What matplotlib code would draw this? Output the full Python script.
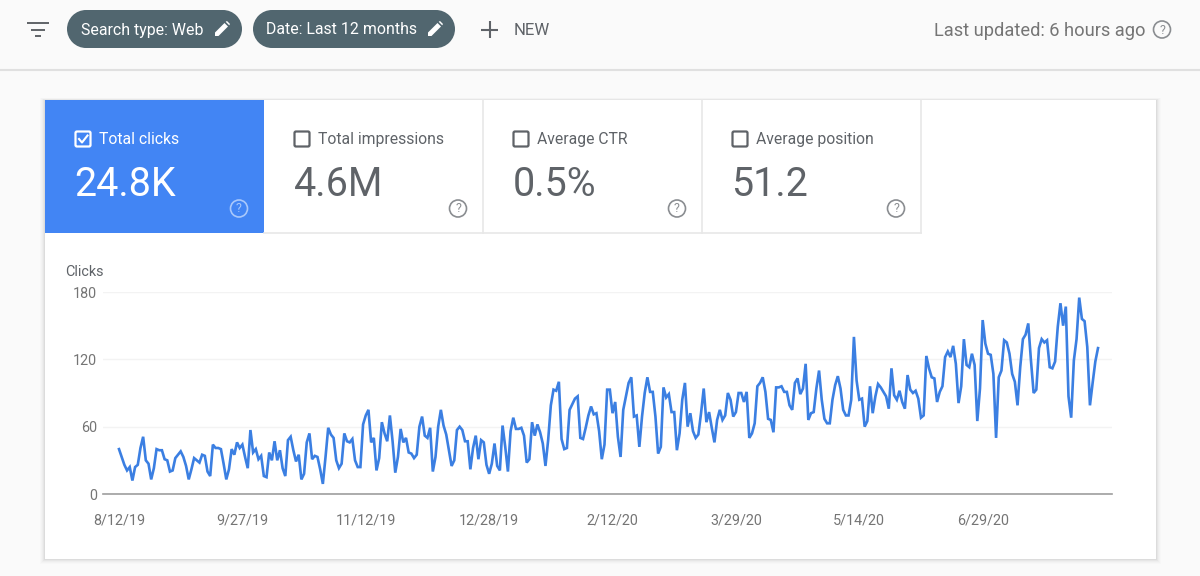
import matplotlib
matplotlib.use("Agg")
import matplotlib.pyplot as plt
from matplotlib.patches import Rectangle, FancyBboxPatch, Circle, Polygon

plt.rcParams['font.family'] = ['Roboto', 'DejaVu Sans']

# ---------- Data ----------

clicks = [
    40, 33, 26, 21, 24, 12, 24, 26, 41, 51, 30, 27, 13, 23, 40, 39, 39, 31, 30, 20,
    21, 32, 35, 38, 33, 25, 13, 22, 32, 30, 28, 35, 34, 20, 16, 44, 41, 41, 40, 27,
    13, 22, 40, 35, 46, 41, 44, 33, 23, 57, 37, 40, 31, 34, 16, 15, 37, 30, 47, 30,
    39, 23, 16, 48, 51, 39, 29, 35, 13, 18, 46, 54, 31, 34, 33, 22, 9, 33, 59, 53,
    50, 30, 23, 27, 54, 47, 46, 49, 30, 24, 24, 62, 70, 75, 46, 50, 21, 32, 64, 54,
    47, 70, 47, 19, 33, 58, 46, 50, 37, 36, 32, 35, 60, 69, 52, 50, 59, 20, 33, 60,
    75, 61, 53, 39, 25, 30, 57, 60, 57, 47, 47, 22, 41, 52, 31, 48, 46, 26, 18, 27,
    45, 25, 21, 61, 42, 20, 56, 68, 58, 58, 59, 52, 28, 31, 64, 52, 62, 55, 45, 25,
    48, 79, 93, 92, 100, 49, 40, 41, 75, 80, 85, 87, 50, 49, 59, 70, 78, 71, 72, 56,
    31, 44, 93, 93, 72, 82, 51, 33, 75, 87, 99, 104, 69, 70, 42, 69, 90, 104, 91, 91,
    69, 36, 42, 95, 86, 89, 73, 73, 39, 54, 84, 99, 60, 72, 56, 50, 53, 72, 94, 64,
    73, 59, 46, 66, 75, 66, 70, 90, 84, 69, 73, 90, 90, 82, 91, 50, 54, 63, 96, 99,
    104, 91, 67, 66, 55, 95, 95, 96, 91, 91, 79, 75, 99, 103, 89, 94, 116, 66, 72, 73,
    94, 110, 84, 67, 63, 63, 84, 97, 105, 94, 75, 70, 70, 84, 140, 101, 84, 85, 60, 65,
    96, 72, 87, 98, 95, 91, 87, 76, 112, 88, 84, 92, 82, 76, 106, 93, 90, 92, 85, 68,
    70, 123, 112, 104, 103, 82, 91, 96, 122, 127, 122, 132, 116, 81, 96, 138, 115, 113, 125, 115,
    65, 94, 155, 134, 125, 124, 107, 50, 104, 110, 137, 135, 125, 107, 100, 79, 113, 138, 142, 152,
    119, 90, 93, 130, 138, 135, 137, 113, 112, 118, 149, 170, 150, 167, 87, 68, 119, 138, 175, 156,
    154, 131, 79, 99, 118, 130,
]
days = list(range(len(clicks)))

tick_days = [0, 46, 92, 138, 184, 230, 276, 322]
tick_labels = ["8/12/19", "9/27/19", "11/12/19", "12/28/19", "2/12/20", "3/29/20", "5/14/20", "6/29/20"]
y_ticks = [0, 60, 120, 180]

tab_titles = ["Total clicks", "Total impressions", "Average CTR", "Average position"]
tab_values = ["24.8K", "4.6M", "0.5%", "51.2"]

W, H = 1200, 576
GREY = "#5f6368"
BLUE = "#4285f4"
PILL = "#51666f"


def px(size):
    # taille en pixels -> points (dpi = 100)
    return size * 72 / 100


def question(ax, x, y, color, r=8.5, size=12.5):
    ax.add_patch(Circle((x, y), r, fill=False, ec=color, lw=1.2))
    ax.text(x, y + 0.5, "?", color=color, fontsize=px(size), ha="center", va="center")


def pencil(ax, x, y, color="white"):
    # petit crayon blanc des filtres
    ax.add_patch(Polygon([(x - 7, y + 7), (x - 7, y + 3.5), (x + 2.5, y - 6), (x + 6, y - 2.5), (x - 3.5, y + 7)],
                         fc=color, ec="none"))
    ax.add_patch(Polygon([(x + 3.7, y - 7.2), (x + 5, y - 8), (x + 8, y - 5), (x + 7.2, y - 3.7)],
                         fc=color, ec="none"))


fig = plt.figure(figsize=(W / 100, H / 100), dpi=100, facecolor="#fafafa")

# ---------- Page ----------

bg = fig.add_axes([0, 0, 1, 1])
bg.set_xlim(0, W)
bg.set_ylim(H, 0)
bg.axis("off")

bg.plot([0, W], [69.5, 69.5], color="#e0e0e0", lw=1.5)

# Icone filtre
for xa, xb, y in [(27, 49, 23), (31, 45, 29.5), (35, 41, 36)]:
    bg.plot([xa, xb], [y, y], color=GREY, lw=1.4, solid_capstyle="butt")

# Filtres
for x0, x1, label, xt in [(67, 242, "Search type: Web", 81), (253, 455, "Date: Last 12 months", 266)]:
    bg.add_patch(Circle((x0 + 19, 29), 19, fc=PILL, ec="none"))
    bg.add_patch(Circle((x1 - 19, 29), 19, fc=PILL, ec="none"))
    bg.add_patch(Rectangle((x0 + 19, 10), x1 - x0 - 38, 38, fc=PILL, ec="none"))
    bg.text(xt, 30, label, color="white", fontsize=px(15.9), va="center", ha="left")
    pencil(bg, x1 - 20, 29)

bg.plot([481, 498], [29.5, 29.5], color=GREY, lw=1.5, solid_capstyle="butt")
bg.plot([489.5, 489.5], [21, 38], color=GREY, lw=1.5, solid_capstyle="butt")
bg.text(514, 30.5, "NEW", color=GREY, fontsize=px(16.8), va="center", ha="left")

bg.text(1146, 30.5, "Last updated: 6 hours ago", color="#757575", fontsize=px(18.3), va="center", ha="right")
question(bg, 1162, 29.5, "#8a8d91")

# ---------- Carte ----------

for i, alpha in [(5, 0.012), (4, 0.016), (3, 0.02), (2, 0.03), (1, 0.04)]:
    bg.add_patch(Rectangle((45 - i, 100 - i / 2), 1111 + 2 * i, 459 + 1.5 * i, fc="black", alpha=alpha, ec="none"))
bg.add_patch(Rectangle((45, 100), 1111, 459, fc="white", ec="none"))

# Onglets
tab_x = [45, 264, 483, 702]
tab_w = 219
for i in range(4):
    x0 = tab_x[i]
    selected = i == 0
    if selected:
        bg.add_patch(Rectangle((x0, 100), tab_w, 133, fc=BLUE, ec="none"))
    else:
        bg.plot([x0 + tab_w, x0 + tab_w], [100, 233], color="#e8e8e8", lw=1.2)
        bg.plot([x0, x0 + tab_w], [233, 233], color="#e8e8e8", lw=1.2)
    fg = "white" if selected else GREY
    bg.add_patch(FancyBboxPatch((x0 + 30.5, 131.5), 15, 15, boxstyle="round,pad=0,rounding_size=1.5",
                                fc="none", ec=fg, lw=1.6))
    if selected:
        bg.plot([x0 + 34, x0 + 37, x0 + 42.5], [139, 142.5, 135.5], color="white", lw=1.5)
    bg.text(x0 + 54, 139.5, tab_titles[i], color=fg, fontsize=px(15.7), va="center", ha="left")
    bg.text(x0 + 29.5, 184, tab_values[i], color=fg, fontsize=px(39.5), va="center", ha="left")
    question(bg, x0 + 194, 208.5, "#a9c8fb" if selected else "#8a8d91")

bg.text(65, 272, "Clicks", color=GREY, fontsize=px(14.4), va="center", ha="left")

# ---------- Courbe ----------

# axe y : 0 -> y=494 px, 180 -> y=292 px ; axe x : jour 0 -> x=119 px, jour 365 -> x=1098 px
left, right = 103, 1112
top, bottom = 292, 494
ax = fig.add_axes([left / W, 1 - bottom / H, (right - left) / W, (bottom - top) / H])
ax.patch.set_alpha(0)
scale = (1098 - 119) / 365
ax.set_xlim((left - 119) / scale, (right - 119) / scale)
ax.set_ylim(0, 180)

ax.plot(days, clicks, color="#3b7fe2", lw=1.9, solid_joinstyle="miter", clip_on=False, zorder=3)

for s in ["top", "right", "left"]:
    ax.spines[s].set_visible(False)
ax.spines["bottom"].set_color("#9e9e9e")
ax.spines["bottom"].set_linewidth(1.2)
ax.grid(axis="y", color="#f3f3f3", lw=1)
ax.set_axisbelow(True)

ax.set_yticks(y_ticks)
ax.set_xticks(tick_days)
ax.set_xticklabels(tick_labels)
ax.tick_params(axis="both", length=0, labelsize=px(14.4), labelcolor="#757575")
ax.tick_params(axis="y", pad=4.5)
ax.tick_params(axis="x", pad=14)

fig.savefig("out.png", dpi=100, facecolor=fig.get_facecolor())
